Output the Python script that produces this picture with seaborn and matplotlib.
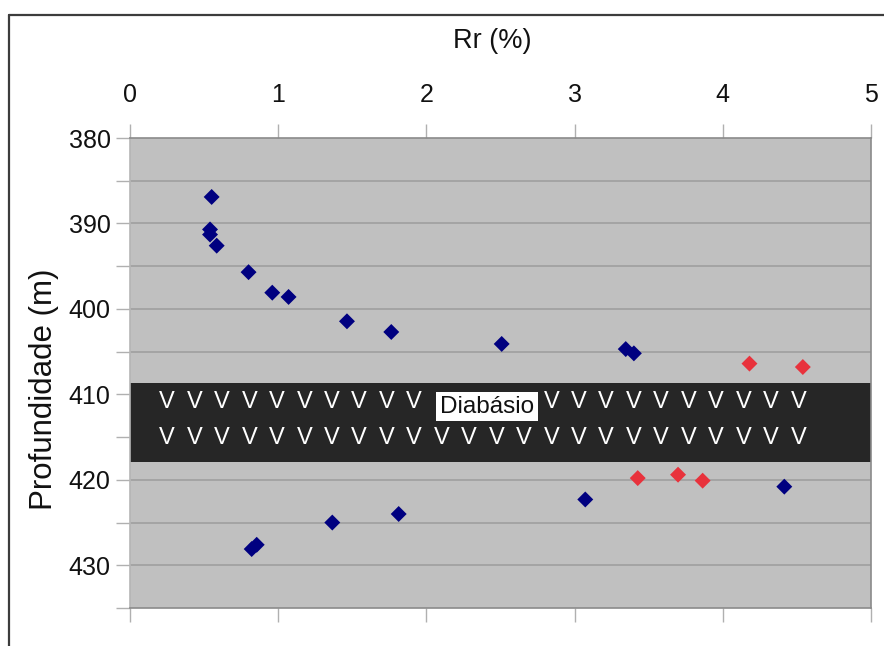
import numpy as np
import pandas as pd
import matplotlib
matplotlib.use("Agg")
import matplotlib.pyplot as plt
from matplotlib.lines import Line2D
from matplotlib.ticker import MultipleLocator
import seaborn as sns

# Vitrinite reflectance (Rr, %) versus depth (m)
rr_outside = [0.551, 0.54, 0.54, 0.585, 0.80, 0.96, 1.07, 1.464, 1.763, 2.508,
              3.345, 3.40, 0.821, 0.855, 1.365, 1.813, 3.072, 4.415]
depth_outside = [386.9, 390.7, 391.3, 392.6, 395.7, 398.1, 398.6, 401.45, 402.7, 404.1,
                 404.7, 405.2, 428.1, 427.6, 425.0, 424.0, 422.3, 420.8]

rr_contact = [4.18, 4.54, 3.426, 3.698, 3.864]
depth_contact = [406.4, 406.8, 419.8, 419.4, 420.1]

# Diabase sill interval
sill_top = 408.7
sill_base = 417.9
sill_label = "Diabásio"

x_ticks = [0, 1, 2, 3, 4, 5]
y_ticks = [380, 390, 400, 410, 420, 430]

df = pd.DataFrame({
    "Rr": rr_outside + rr_contact,
    "Profundidade": depth_outside + depth_contact,
    "grupo": ["fora"] * len(rr_outside) + ["contato"] * len(rr_contact),
})

sns.set_style("white")
plt.rcParams["font.family"] = ["Liberation Sans", "DejaVu Sans"]

fig = plt.figure(figsize=(8.84, 6.46), dpi=100)
ax = fig.add_axes([130 / 884, 1 - 608 / 646, 741 / 884, 470 / 646])
ax.set_facecolor("#c0c0c0")

# sill band with the "v" pattern
ax.axhspan(sill_top, sill_base, color="#262626", zorder=1, lw=0)
v_x = np.linspace(0.25, 4.51, 24)
row1_y = sill_top + 2.2
row2_y = sill_top + 6.4
for i, xv in enumerate(v_x):
    if not (10 <= i <= 13):
        ax.text(xv, row1_y, "V", color="white", fontsize=17, ha="center",
                va="center", zorder=3)
    ax.text(xv, row2_y, "V", color="white", fontsize=17, ha="center",
            va="center", zorder=3)
ax.text(2.41, sill_top + 2.75, sill_label, fontsize=17.5, ha="center", va="center",
        zorder=4, color="#111111",
        bbox=dict(boxstyle="square,pad=0.15", fc="white", ec="none"))

sns.scatterplot(data=df, x="Rr", y="Profundidade", hue="grupo",
                palette={"fora": "#000080", "contato": "#e8323c"},
                marker="D", s=66, edgecolor="none", legend=False, ax=ax, zorder=5)

ax.set_xlim(0, 5)
ax.set_ylim(435, 380)
ax.set_xticks(x_ticks)
ax.set_xticklabels([str(t) for t in x_ticks])
ax.set_yticks(y_ticks)
ax.set_yticklabels([str(t) for t in y_ticks])
ax.yaxis.set_minor_locator(MultipleLocator(5))

ax.grid(False)
for yv in np.arange(385, 435, 5):
    ax.axhline(yv, color="#9c9c9c", lw=1.1, zorder=0.5)

ax.xaxis.set_ticks_position("both")
ax.xaxis.set_label_position("top")
ax.tick_params(axis="x", which="major", top=True, bottom=True, labeltop=True,
               labelbottom=False, direction="out", length=10, width=1,
               color="#b0b0b0", labelsize=18, pad=12, labelcolor="#111111")
ax.tick_params(axis="y", which="both", left=True, direction="out", length=10,
               width=1, color="#b0b0b0", labelsize=18, pad=4, labelcolor="#111111")

ax.set_xlabel("Rr (%)", fontsize=19.5, color="#111111")
ax.xaxis.set_label_coords(0.4885, 1.191)
ax.set_ylabel("Profundidade (m)", fontsize=22.5, color="#111111", va="center")
ax.yaxis.set_label_coords(-0.116, 0.466)

for side, sp in ax.spines.items():
    sp.set_visible(True)
    sp.set_color("#8a8a8a")
    sp.set_linewidth(1.2)
ax.spines["left"].set_color("#b5b5b5")

# outer frame of the figure
fig.add_artist(Line2D([9 / 884, 1], [1 - 15 / 646, 1 - 15 / 646],
                      color="#3c3c3c", lw=1.6, transform=fig.transFigure))
fig.add_artist(Line2D([9 / 884, 9 / 884], [0, 1 - 15 / 646],
                      color="#3c3c3c", lw=1.6, transform=fig.transFigure))

fig.savefig("out.png", dpi=100)
